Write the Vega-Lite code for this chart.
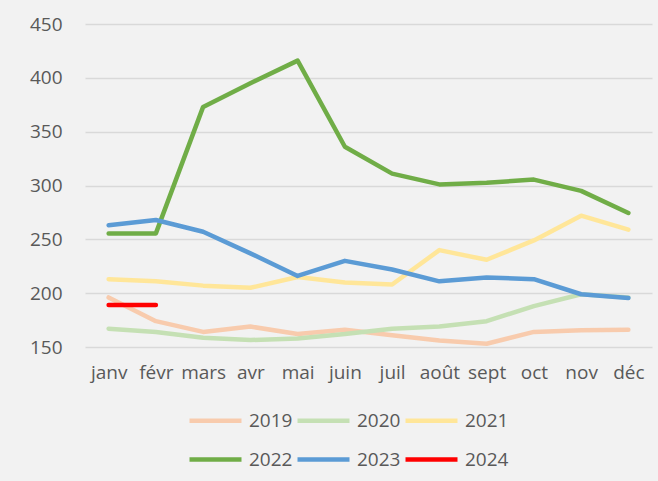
{
  "$schema": "https://vega.github.io/schema/vega-lite/v6.json",
  "width": 567,
  "height": 323,
  "autosize": {"type": "none"},
  "padding": {"left": 85, "top": 24, "right": 6, "bottom": 134},
  "background": "#F2F2F2",
  "config": {
    "view": {"stroke": null},
    "font": "Open Sans",
    "axis": {"labelColor": "#595959", "labelFontSize": 19, "labelFont": "Open Sans"},
    "legend": {"labelColor": "#595959", "labelFontSize": 19, "labelFont": "Open Sans"}
  },
  "data": {
    "values": [
      {"month": "janv", "year": "2019", "value": 196},
      {"month": "févr", "year": "2019", "value": 174},
      {"month": "mars", "year": "2019", "value": 164},
      {"month": "avr", "year": "2019", "value": 169},
      {"month": "mai", "year": "2019", "value": 162},
      {"month": "juin", "year": "2019", "value": 166},
      {"month": "juil", "year": "2019", "value": 161},
      {"month": "août", "year": "2019", "value": 156},
      {"month": "sept", "year": "2019", "value": 153},
      {"month": "oct", "year": "2019", "value": 164},
      {"month": "nov", "year": "2019", "value": 165.5},
      {"month": "déc", "year": "2019", "value": 166},
      {"month": "janv", "year": "2020", "value": 167},
      {"month": "févr", "year": "2020", "value": 164},
      {"month": "mars", "year": "2020", "value": 158.5},
      {"month": "avr", "year": "2020", "value": 156.5},
      {"month": "mai", "year": "2020", "value": 158},
      {"month": "juin", "year": "2020", "value": 162},
      {"month": "juil", "year": "2020", "value": 167},
      {"month": "août", "year": "2020", "value": 169},
      {"month": "sept", "year": "2020", "value": 174},
      {"month": "oct", "year": "2020", "value": 188},
      {"month": "nov", "year": "2020", "value": 199},
      {"month": "déc", "year": "2020", "value": 196},
      {"month": "janv", "year": "2021", "value": 213},
      {"month": "févr", "year": "2021", "value": 211},
      {"month": "mars", "year": "2021", "value": 207},
      {"month": "avr", "year": "2021", "value": 205},
      {"month": "mai", "year": "2021", "value": 215},
      {"month": "juin", "year": "2021", "value": 210},
      {"month": "juil", "year": "2021", "value": 208},
      {"month": "août", "year": "2021", "value": 240},
      {"month": "sept", "year": "2021", "value": 231},
      {"month": "oct", "year": "2021", "value": 249},
      {"month": "nov", "year": "2021", "value": 272},
      {"month": "déc", "year": "2021", "value": 259},
      {"month": "janv", "year": "2022", "value": 255.5},
      {"month": "févr", "year": "2022", "value": 255.5},
      {"month": "mars", "year": "2022", "value": 373},
      {"month": "avr", "year": "2022", "value": 395},
      {"month": "mai", "year": "2022", "value": 416},
      {"month": "juin", "year": "2022", "value": 336},
      {"month": "juil", "year": "2022", "value": 311},
      {"month": "août", "year": "2022", "value": 301},
      {"month": "sept", "year": "2022", "value": 302.5},
      {"month": "oct", "year": "2022", "value": 305.5},
      {"month": "nov", "year": "2022", "value": 295},
      {"month": "déc", "year": "2022", "value": 274.5},
      {"month": "janv", "year": "2023", "value": 263},
      {"month": "févr", "year": "2023", "value": 268},
      {"month": "mars", "year": "2023", "value": 257},
      {"month": "avr", "year": "2023", "value": 237},
      {"month": "mai", "year": "2023", "value": 216},
      {"month": "juin", "year": "2023", "value": 230},
      {"month": "juil", "year": "2023", "value": 222},
      {"month": "août", "year": "2023", "value": 211},
      {"month": "sept", "year": "2023", "value": 214.5},
      {"month": "oct", "year": "2023", "value": 213},
      {"month": "nov", "year": "2023", "value": 199},
      {"month": "déc", "year": "2023", "value": 195.5},
      {"month": "janv", "year": "2024", "value": 189},
      {"month": "févr", "year": "2024", "value": 189}
    ]
  },
  "mark": {"type": "line", "strokeWidth": 4.5, "strokeCap": "round", "strokeJoin": "round"},
  "encoding": {
    "x": {
      "field": "month",
      "type": "ordinal",
      "sort": ["janv", "févr", "mars", "avr", "mai", "juin", "juil", "août", "sept", "oct", "nov", "déc"],
      "scale": {"type": "point", "padding": 0.5},
      "axis": {"title": null, "domain": false, "ticks": false, "labelAngle": 0, "labelPadding": 16, "grid": false}
    },
    "y": {
      "field": "value",
      "type": "quantitative",
      "scale": {"domain": [150, 450], "nice": false, "zero": false},
      "axis": {"title": null, "values": [150, 200, 250, 300, 350, 400, 450], "domain": false, "ticks": false, "labelPadding": 23, "gridColor": "#D9D9D9", "gridWidth": 1.5}
    },
    "color": {
      "field": "year",
      "type": "nominal",
      "scale": {
        "domain": ["2019", "2020", "2021", "2022", "2023", "2024"],
        "range": ["#F8CBAD", "#C5E0B4", "#FFE699", "#70AD47", "#5B9BD5", "#FF0000"]
      },
      "legend": {
        "title": null,
        "orient": "none",
        "legendX": 102,
        "legendY": 368,
        "direction": "horizontal",
        "columns": 3,
        "symbolType": "stroke",
        "symbolSize": 2704,
        "symbolStrokeWidth": 4.5,
        "labelOffset": 5,
        "columnPadding": -5,
        "rowPadding": -15
      }
    }
  }
}
